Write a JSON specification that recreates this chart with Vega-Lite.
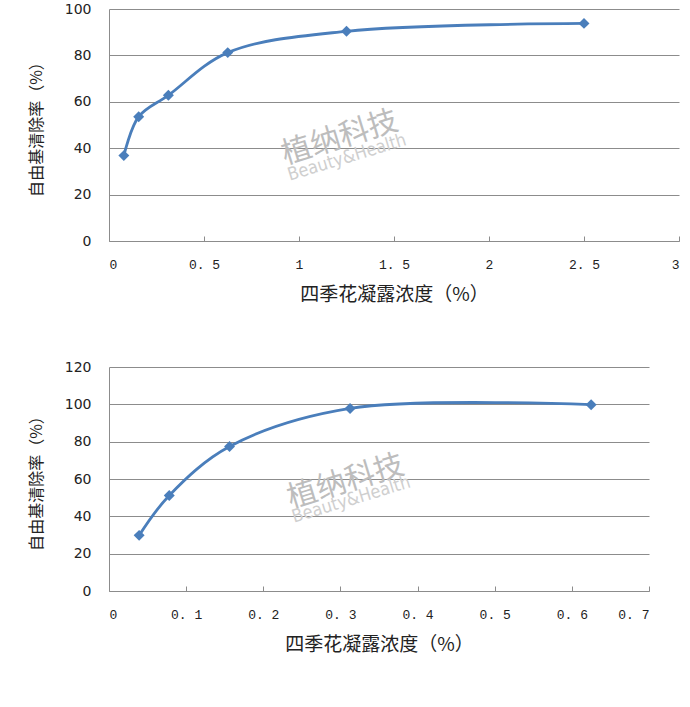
{
  "$schema": "https://vega.github.io/schema/vega-lite/v6.json",
  "background": "white",
  "padding": {"left": 28, "top": 2, "right": 5, "bottom": 5},
  "spacing": 56,
  "config": {
    "view": {"stroke": null}
  },
  "datasets": {
    "top": [
      {"x": 0.078125, "y": 36.8},
      {"x": 0.15625, "y": 53.6},
      {"x": 0.3125, "y": 62.8},
      {"x": 0.625, "y": 81.2},
      {"x": 1.25, "y": 90.4},
      {"x": 2.5, "y": 93.8}
    ],
    "bottom": [
      {"x": 0.0390625, "y": 29.8},
      {"x": 0.078125, "y": 51.2},
      {"x": 0.15625, "y": 77.4},
      {"x": 0.3125, "y": 97.8},
      {"x": 0.625, "y": 99.8}
    ],
    "wmTop": [
      {"x": 1.216, "y": 44.4, "label": "植纳科技", "kind": "cn"},
      {"x": 1.253, "y": 35.8, "label": "Beauty&Health", "kind": "en"}
    ],
    "wmBottom": [
      {"x": 0.307, "y": 58.4, "label": "植纳科技", "kind": "cn"},
      {"x": 0.314, "y": 48.7, "label": "Beauty&Health", "kind": "en"}
    ]
  },
  "vconcat": [
    {
      "width": 570,
      "height": 232,
      "layer": [
        {
          "data": {"name": "wmTop"},
          "transform": [{"filter": "datum.kind === 'cn'"}],
          "mark": {"type": "text", "angle": -17, "font": "Noto Sans CJK SC", "fontSize": 30, "color": "#bdbdbd"},
          "encoding": {
            "x": {"field": "x", "type": "quantitative"},
            "y": {"field": "y", "type": "quantitative"},
            "text": {"field": "label"}
          }
        },
        {
          "data": {"name": "wmTop"},
          "transform": [{"filter": "datum.kind === 'en'"}],
          "mark": {"type": "text", "angle": -17, "font": "DejaVu Sans Condensed, Liberation Sans", "fontSize": 18, "color": "#cfcfcf"},
          "encoding": {
            "x": {"field": "x", "type": "quantitative"},
            "y": {"field": "y", "type": "quantitative"},
            "text": {"field": "label"}
          }
        },
        {
          "data": {"name": "top"},
          "mark": {"type": "line", "interpolate": "catmull-rom", "color": "#4a7ebb", "strokeWidth": 2.8},
          "encoding": {
            "x": {
              "field": "x", "type": "quantitative",
              "scale": {"domain": [0, 3], "nice": false},
              "axis": {
                "values": [0, 0.5, 1, 1.5, 2, 2.5, 3], "tickCount": 20,
                "labelExpr": "replace(toString(datum.value), '.', '. ')",
                "title": "四季花凝露浓度（%）",
                "grid": false, "ticks": true, "tickSize": -5, "tickColor": "#8c8c8c", "domainColor": "#8c8c8c",
                "labelFont": "Liberation Mono", "labelFontSize": 13, "labelColor": "#222222", "labelPadding": 22, "labelOverlap": false,
                "titleFont": "Noto Sans CJK SC", "titleFontSize": 19, "titleFontWeight": "normal", "titleColor": "#222222", "titlePadding": 14
              }
            },
            "y": {
              "field": "y", "type": "quantitative",
              "scale": {"domain": [0, 100], "nice": false},
              "axis": {
                "values": [0, 20, 40, 60, 80, 100], "tickCount": 20,
                "title": "自由基清除率（%）",
                "grid": true, "gridColor": "#8c8c8c", "ticks": false, "domainColor": "#8c8c8c",
                "labelFont": "DejaVu Sans", "labelFontSize": 14, "labelColor": "#222222", "labelPadding": 18, "labelOverlap": false,
                "titleFont": "Noto Sans CJK SC", "titleFontSize": 16, "titleFontWeight": "normal", "titleColor": "#222222", "titlePadding": 20
              }
            }
          }
        },
        {
          "data": {"name": "top"},
          "mark": {"type": "point", "shape": "diamond", "filled": true, "opacity": 1, "size": 120, "color": "#4a7ebb"},
          "encoding": {
            "x": {"field": "x", "type": "quantitative"},
            "y": {"field": "y", "type": "quantitative"}
          }
        }
      ]
    },
    {
      "width": 540,
      "height": 224,
      "layer": [
        {
          "data": {"name": "wmBottom"},
          "transform": [{"filter": "datum.kind === 'cn'"}],
          "mark": {"type": "text", "angle": -17, "font": "Noto Sans CJK SC", "fontSize": 30, "color": "#bdbdbd"},
          "encoding": {
            "x": {"field": "x", "type": "quantitative"},
            "y": {"field": "y", "type": "quantitative"},
            "text": {"field": "label"}
          }
        },
        {
          "data": {"name": "wmBottom"},
          "transform": [{"filter": "datum.kind === 'en'"}],
          "mark": {"type": "text", "angle": -17, "font": "DejaVu Sans Condensed, Liberation Sans", "fontSize": 18, "color": "#cfcfcf"},
          "encoding": {
            "x": {"field": "x", "type": "quantitative"},
            "y": {"field": "y", "type": "quantitative"},
            "text": {"field": "label"}
          }
        },
        {
          "data": {"name": "bottom"},
          "mark": {"type": "line", "interpolate": "catmull-rom", "color": "#4a7ebb", "strokeWidth": 2.8},
          "encoding": {
            "x": {
              "field": "x", "type": "quantitative",
              "scale": {"domain": [0, 0.7], "nice": false},
              "axis": {
                "values": [0, 0.1, 0.2, 0.3, 0.4, 0.5, 0.6, 0.7], "tickCount": 20,
                "labelExpr": "replace(toString(datum.value), '.', '. ')",
                "title": "四季花凝露浓度（%）",
                "grid": false, "ticks": true, "tickSize": -5, "tickColor": "#8c8c8c", "domainColor": "#8c8c8c",
                "labelFont": "Liberation Mono", "labelFontSize": 13, "labelColor": "#222222", "labelPadding": 22, "labelOverlap": false,
                "titleFont": "Noto Sans CJK SC", "titleFontSize": 19, "titleFontWeight": "normal", "titleColor": "#222222", "titlePadding": 14
              }
            },
            "y": {
              "field": "y", "type": "quantitative",
              "scale": {"domain": [0, 120], "nice": false},
              "axis": {
                "values": [0, 20, 40, 60, 80, 100, 120], "tickCount": 20,
                "title": "自由基清除率（%）",
                "grid": true, "gridColor": "#8c8c8c", "ticks": false, "domainColor": "#8c8c8c",
                "labelFont": "DejaVu Sans", "labelFontSize": 14, "labelColor": "#222222", "labelPadding": 18, "labelOverlap": false,
                "titleFont": "Noto Sans CJK SC", "titleFontSize": 16, "titleFontWeight": "normal", "titleColor": "#222222", "titlePadding": 20
              }
            }
          }
        },
        {
          "data": {"name": "bottom"},
          "mark": {"type": "point", "shape": "diamond", "filled": true, "opacity": 1, "size": 120, "color": "#4a7ebb"},
          "encoding": {
            "x": {"field": "x", "type": "quantitative"},
            "y": {"field": "y", "type": "quantitative"}
          }
        }
      ]
    }
  ]
}
